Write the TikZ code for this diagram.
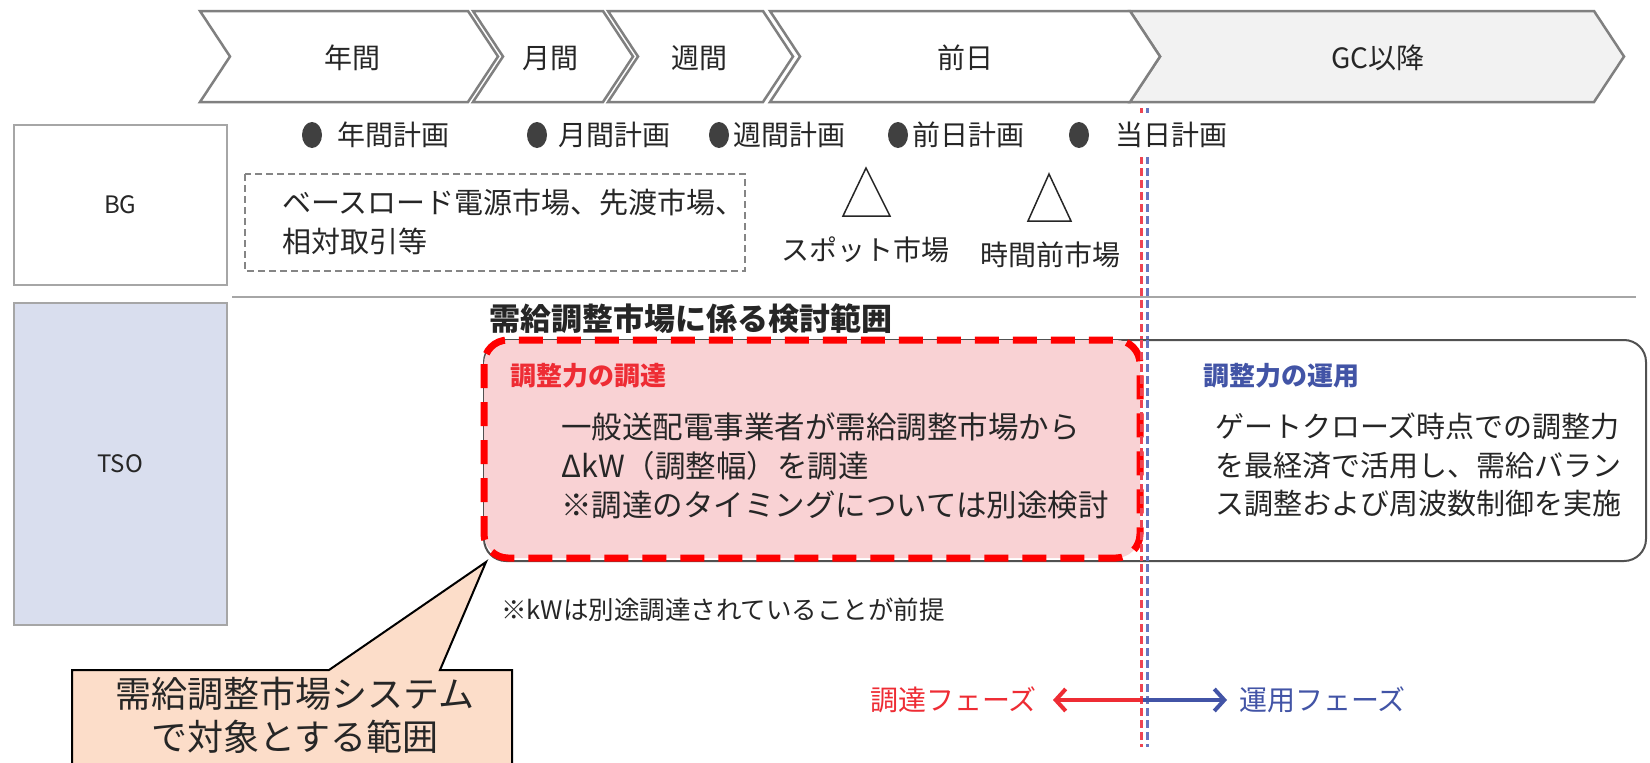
\documentclass[tikz,border=0pt]{standalone}
\usepackage{fontspec}
\setmainfont{Noto Sans CJK JP}
\usetikzlibrary{shapes.geometric,arrows.meta}
\definecolor{chevgray}{HTML}{808080}
\definecolor{gcfill}{HTML}{F2F2F2}
\definecolor{txt}{HTML}{262626}
\definecolor{boxgray}{HTML}{A6A6A6}
\definecolor{tsofill}{HTML}{D9DEEE}
\definecolor{pinkfill}{HTML}{F9D2D4}
\definecolor{redtitle}{HTML}{EE2C34}
\definecolor{bluetitle}{HTML}{4254A6}
\definecolor{redline}{HTML}{EE4452}
\definecolor{blueline}{HTML}{6676C0}
\definecolor{peach}{HTML}{FCDDC9}
\definecolor{bulletc}{HTML}{404040}
\newcommand\mychev[4]{%
  \draw[chev,fill=#3] (#1,11) -- (#2,11) -- (#2+30,56.5) -- (#2,102) -- (#1,102) -- (#1+30,56.5) -- cycle;
  \node[chevtext] (#4) at ({(#1+#2+30)/2},57) {};}
\begin{document}
\begin{tikzpicture}[x=1pt,y=-1pt,
  chev/.style={draw=chevgray,line width=2.5pt,line join=miter},
  chevtext/.style={inner sep=0},
  lbl/.style={font=\fontsize{28}{34}\selectfont,text=txt,inner sep=0},
  body/.style={font=\fontsize{30.5}{39}\selectfont,text=txt,inner sep=0,align=left},
  bullet/.style={ellipse,fill=bulletc,minimum width=20pt,minimum height=26pt,inner sep=0},
  sidebox/.style={draw=boxgray,line width=1.5pt},
  tri/.style={draw=txt,line width=1.5pt,line join=miter},
  vdash/.style={line width=3pt,dash pattern=on 8pt off 4pt},
  phase/.style={font=\fontsize{28}{34}\selectfont,inner sep=0}]
\useasboundingbox (0,0) rectangle (1650,763);
\fill[white] (0,0) rectangle (1650,763);

% chevrons
\mychev{1130}{1594}{gcfill}{c5}
\mychev{200}{468}{white}{c1}
\mychev{473}{603}{white}{c2}
\mychev{608}{763}{white}{c3}
\mychev{770}{1130}{white}{c4}
\node[lbl] (t1) at (352,58) {年間};
\node[lbl] (t2) at (550,58) {月間};
\node[lbl] (t3) at (699,58) {週間};
\node[lbl] (t4) at (965,58) {前日};
\node[lbl] (t5) at (1378,58) {GC以降};

% side boxes
\node[sidebox,fill=white,minimum width=213pt,minimum height=160pt,anchor=north west] (bgbox) at (13,124) {};
\node[lbl,font=\fontsize{24}{28}\selectfont] (bg) at (bgbox.center) {BG};
\node[sidebox,fill=tsofill,minimum width=213pt,minimum height=322pt,anchor=north west] (tsobox) at (13,302) {};
\node[lbl,font=\fontsize{24}{28}\selectfont] (tso) at (tsobox.center) {TSO};
\coordinate (sepL) at (232,297);
\coordinate (sepR) at (1636,297);
\draw[boxgray,line width=1.2pt] (sepL) -- (sepR);

% vertical divider
\coordinate (vrT) at (1141,108);
\coordinate (vrB) at (1141,747);
\coordinate (vbT) at (1147,108);
\coordinate (vbB) at (1147,747);
\draw[vdash,redline] (vrT) -- (vrB);
\draw[vdash,blueline] (vbT) -- (vbB);

% bullets
\node[bullet] (b1) at (312,135) {};
\node[lbl,anchor=west] (p1) at (337,135) {年間計画};
\node[bullet] (b2) at (537,135) {};
\node[lbl,anchor=west] (p2) at (558,135) {月間計画};
\node[bullet] (b3) at (719,135) {};
\node[lbl,anchor=west] (p3) at (733,135) {週間計画};
\node[bullet] (b4) at (898,135) {};
\node[lbl,anchor=west] (p4) at (912,135) {前日計画};
\node[bullet] (b5) at (1079,135) {};
\node[lbl,anchor=west,fill=white,inner ysep=9pt] (p5) at (1115,135) {当日計画};

% dashed market box
\draw[boxgray!80!black,line width=1.8pt,dash pattern=on 7pt off 4pt] (245,174) rectangle (745,271);
\node[lbl,anchor=west,align=left,font=\fontsize{29}{39}\selectfont] (mk) at (282,222)
  {ベースロード電源市場、先渡市場、\\相対取引等};

% triangles
\draw[tri] (866,168) -- (890,216) -- (843,216) -- cycle;
\draw[tri] (1049,174) -- (1071,221) -- (1028,221) -- cycle;
\node[lbl] (spot) at (865,250) {スポット市場};
\node[lbl] (jikan) at (1050,255) {時間前市場};

% heading
\node[lbl,anchor=west,font=\fontsize{31}{34}\selectfont\bfseries] (head) at (489,319) {需給調整市場に係る検討範囲};

% boxes
\draw[draw=txt!80,line width=2pt,rounded corners=22pt,fill=white] (484,340) rectangle (1646,561);
\draw[draw=red,line width=7pt,dash pattern=on 24pt off 14pt,rounded corners=24pt,fill=pinkfill] (484,340) rectangle (1140,558);
\draw[vdash,redline] (1141,340) -- (1141,561);
\draw[vdash,blueline] (1147,340) -- (1147,561);

\node[anchor=west,inner sep=0,font=\fontsize{26}{30}\selectfont\bfseries,text=redtitle] (rt) at (510,376) {調整力の調達};
\node[body,anchor=north west] (rb) at (561,412) {一般送配電事業者が需給調整市場から\\ΔkW（調整幅）を調達\\※調達のタイミングについては別途検討};

\node[anchor=west,inner sep=0,font=\fontsize{26}{30}\selectfont\bfseries,text=bluetitle] (bt) at (1203,376) {調整力の運用};
\node[body,anchor=north west,font=\fontsize{29}{38.5}\selectfont] (bb) at (1215,413) {ゲートクローズ時点での調整力\\を最経済で活用し、需給バラン\\ス調整および周波数制御を実施};

% note
\node[lbl,anchor=west,font=\fontsize{25.5}{28}\selectfont] (note) at (501,610) {※kWは別途調達されていることが前提};

% phase arrows
\node[phase,text=redtitle,anchor=east] (ph1) at (1037,700) {調達フェーズ};
\node[phase,text=bluetitle,anchor=west] (ph2) at (1239,700) {運用フェーズ};
\coordinate (gc) at (1143,700);
\draw[redtitle,line width=4pt,-{Straight Barb[length=10pt,width=22pt]},shorten >=16pt] (gc) -- (ph1.east);
\draw[bluetitle,line width=4pt,-{Straight Barb[length=10pt,width=22pt]},shorten >=12pt] (gc) -- (ph2.west);

% callout
\draw[fill=peach,draw=black,line width=2pt,line join=miter] (72,775) -- (72,670) -- (329,670) -- (486,562) -- (440,670) -- (512,670) -- (512,775);
\node[inner sep=0,align=center,font=\fontsize{36}{43}\selectfont,text=txt] (call) at (295,715) {需給調整市場システム\\で対象とする範囲};
\end{tikzpicture}
\end{document}
